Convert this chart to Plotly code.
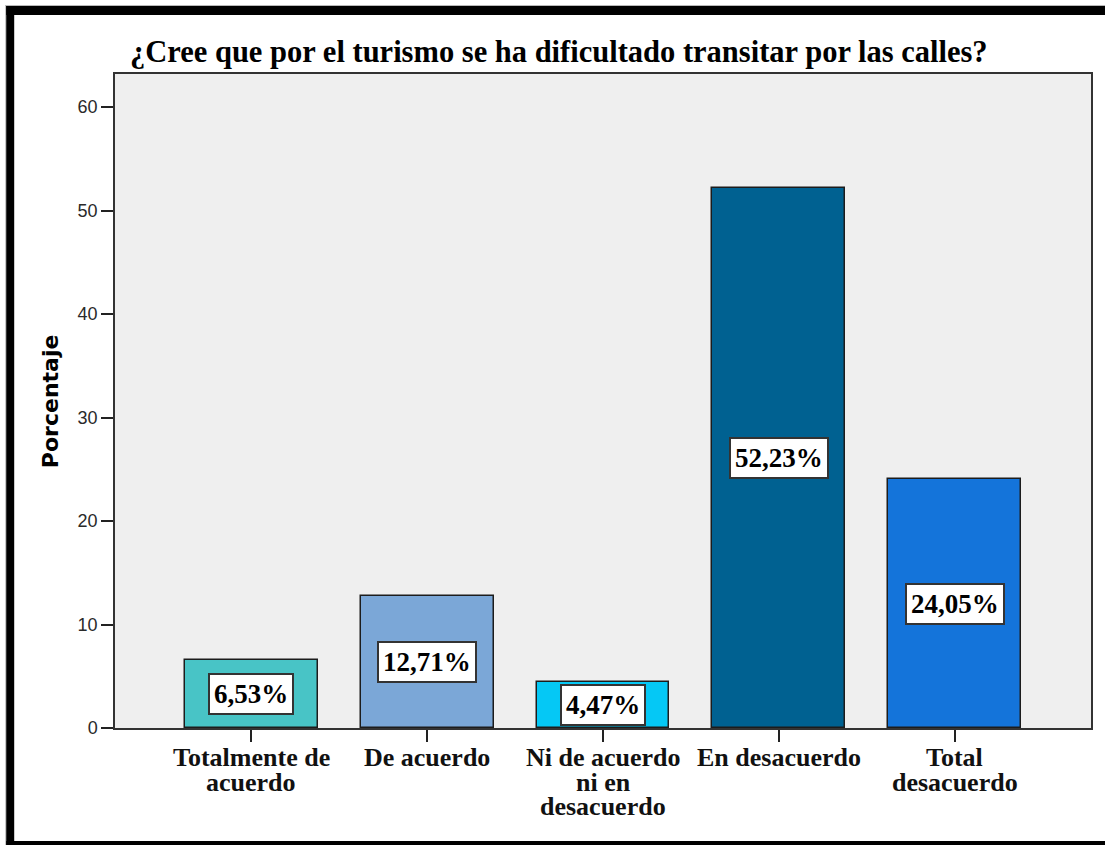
import plotly.graph_objects as go

# Survey responses (percent of respondents)
categorias = ["Totalmente de acuerdo", "De acuerdo", "Ni de acuerdo ni en desacuerdo",
              "En desacuerdo", "Total desacuerdo"]
lineas_etiqueta = [["Totalmente de", "acuerdo"], ["De acuerdo"], ["Ni de acuerdo", "ni en", "desacuerdo"],
                   ["En desacuerdo"], ["Total", "desacuerdo"]]
porcentajes = [6.53, 12.71, 4.47, 52.23, 24.05]
etiquetas = ["6,53%", "12,71%", "4,47%", "52,23%", "24,05%"]
colores = ["#48C4C6", "#7BA7D7", "#05C8F5", "#006191", "#1474DA"]
ticks_y = [0, 10, 20, 30, 40, 50, 60]

W, H = 1105, 845
ML, MR, MT, MB = 115, 12, 74, 117
PW, PH = W - ML - MR, H - MT - MB


def px_x(p):
    return (p - ML) / PW


def px_y(p):
    return (H - MB - p) / PH


SERIF = "Liberation Serif"
xs = list(range(len(categorias)))

fig = go.Figure(go.Bar(
    x=xs, y=porcentajes, width=0.755,
    marker=dict(color=colores, line=dict(color="#1c1c1c", width=1.5)),
    hoverinfo="skip",
))

annotations = []
# value labels in white boxes, centred on each bar
for i, (v, t) in enumerate(zip(porcentajes, etiquetas)):
    annotations.append(dict(
        x=i, y=v / 2, xref="x", yref="y", text=t, showarrow=False,
        font=dict(family=SERIF, size=27, color="#000000", weight="bold"),
        bgcolor="#FFFFFF", bordercolor="#333333", borderwidth=2, borderpad=4,
        xanchor="center", yanchor="middle",
    ))

# category labels, tightly stacked lines
for i, lines in enumerate(lineas_etiqueta):
    for j, ln in enumerate(lines):
        annotations.append(dict(
            x=i, y=px_y(757 + 25 * j), xref="x", yref="paper", text=ln, showarrow=False,
            font=dict(family=SERIF, size=26, color="#111111", weight="bold"),
            xanchor="center", yanchor="middle",
        ))

# y-axis title
annotations.append(dict(
    x=px_x(50), y=0.5, xref="paper", yref="paper", text="Porcentaje", textangle=-90,
    showarrow=False, font=dict(family="DejaVu Sans", size=22, color="#000000", weight="bold"),
    xanchor="center", yanchor="middle",
))

# outer frame: thin grey edge plus heavy black bands (top, left, bottom)
shapes = [
    dict(type="rect", xref="paper", yref="paper", x0=px_x(5), x1=px_x(W + 5), y0=px_y(6), y1=px_y(5),
         fillcolor="#B8B8B8", line=dict(width=0), layer="above"),
    dict(type="rect", xref="paper", yref="paper", x0=px_x(5), x1=px_x(6), y0=px_y(H + 5), y1=px_y(5),
         fillcolor="#B8B8B8", line=dict(width=0), layer="above"),
    dict(type="rect", xref="paper", yref="paper", x0=px_x(6), x1=px_x(W + 5), y0=px_y(15), y1=px_y(6),
         fillcolor="#000000", line=dict(width=0), layer="above"),
    dict(type="rect", xref="paper", yref="paper", x0=px_x(6), x1=px_x(14), y0=px_y(H + 5), y1=px_y(6),
         fillcolor="#000000", line=dict(width=0), layer="above"),
    dict(type="rect", xref="paper", yref="paper", x0=px_x(6), x1=px_x(W + 5), y0=px_y(H + 5), y1=px_y(841),
         fillcolor="#000000", line=dict(width=0), layer="above"),
]

fig.update_layout(
    width=W, height=H,
    margin=dict(l=ML, r=MR, t=MT, b=MB, pad=0),
    paper_bgcolor="#FFFFFF", plot_bgcolor="#EFEFEF",
    showlegend=False,
    title=dict(
        text="¿Cree que por el turismo se ha dificultado transitar por las calles?",
        font=dict(family=SERIF, size=30.5, color="#000000", weight="bold"),
        x=px_x(130), xref="paper", xanchor="left",
        y=1 - 51 / H, yref="container", yanchor="middle",
    ),
    xaxis=dict(
        range=[-0.776, 4.776], tickvals=xs, showticklabels=False,
        ticks="outside", ticklen=12, tickwidth=1.5, tickcolor="#222222",
        showline=True, linecolor="#333333", linewidth=1.5, mirror=True,
        showgrid=False, zeroline=False, fixedrange=True,
    ),
    yaxis=dict(
        range=[0, 63.2], tickvals=ticks_y,
        ticks="outside", ticklen=12, tickwidth=1.5, tickcolor="#222222",
        tickfont=dict(family="Liberation Sans", size=18, color="#2a2a2a"),
        showline=True, linecolor="#333333", linewidth=1.5, mirror=True,
        showgrid=False, zeroline=False, fixedrange=True,
    ),
    bargap=0,
    annotations=annotations,
    shapes=shapes,
)

fig.write_html("out.html")
